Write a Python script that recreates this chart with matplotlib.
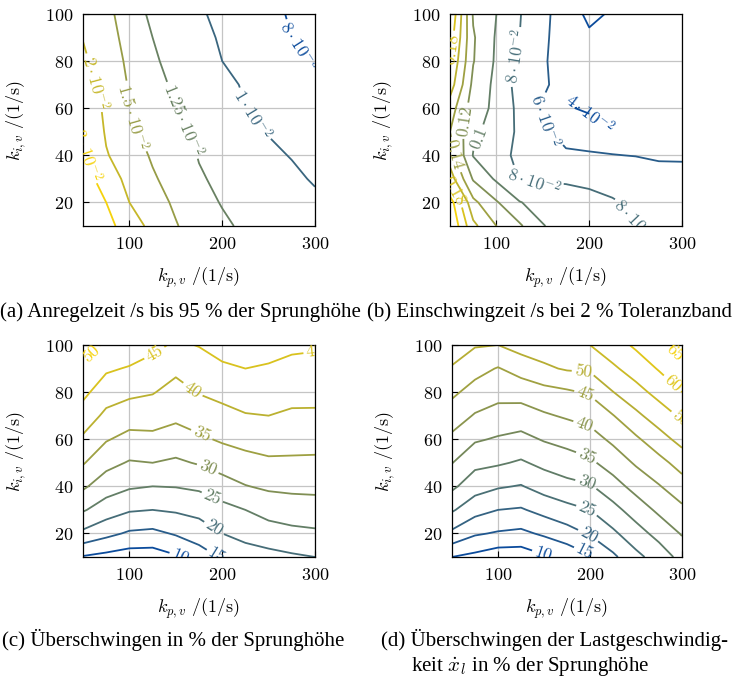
import numpy as np
import matplotlib
matplotlib.use("Agg")
import matplotlib.pyplot as plt
from matplotlib.colors import LinearSegmentedColormap

plt.rcParams["font.family"] = "serif"
plt.rcParams["font.serif"] = ["cmr10"]
plt.rcParams["mathtext.fontset"] = "cm"
plt.rcParams["axes.formatter.use_mathtext"] = True

# controller gains (grid of the parameter study)
kp = [50, 75, 100, 125, 150, 175, 200, 225, 250, 275, 300]
ki = [10, 20, 30, 40, 50, 60, 70, 80, 90, 100]

# (a) rise time /s, rows ki = 10 ... 100, columns kp = 50 ... 300
rise_time = [
    [0.045, 0.034, 0.024, 0.0178, 0.0152, 0.0135, 0.0128, 0.0122, 0.0117, 0.0113, 0.0109],
    [0.040, 0.030, 0.020, 0.0163, 0.0145, 0.0131, 0.0124, 0.0118, 0.0113, 0.0109, 0.0104],
    [0.036, 0.024, 0.0178, 0.0153, 0.0140, 0.0127, 0.0121, 0.0114, 0.0109, 0.0104, 0.0098],
    [0.032, 0.0205, 0.0163, 0.0147, 0.0135, 0.0124, 0.0118, 0.0110, 0.0104, 0.0099, 0.0094],
    [0.028, 0.0192, 0.0155, 0.0142, 0.0130, 0.0121, 0.0114, 0.0105, 0.0099, 0.0095, 0.0091],
    [0.025, 0.0187, 0.0150, 0.0138, 0.0126, 0.0117, 0.0110, 0.01005, 0.0096, 0.0092, 0.0088],
    [0.023, 0.0178, 0.0147, 0.0133, 0.0121, 0.0113, 0.0105, 0.0098, 0.0093, 0.0089, 0.0085],
    [0.021, 0.0170, 0.0143, 0.0129, 0.0116, 0.0109, 0.0100, 0.0096, 0.0090, 0.0085, 0.0079],
    [0.0198, 0.0163, 0.0139, 0.0125, 0.0112, 0.0105, 0.0098, 0.0094, 0.0088, 0.0080, 0.0077],
    [0.019, 0.0158, 0.0135, 0.0121, 0.0108, 0.0102, 0.0096, 0.0092, 0.0085, 0.0078, 0.0074],
]
rise_levels = [0.008, 0.01, 0.0125, 0.015, 0.02, 0.03]

# (b) settling time /s (2 % band)
settling_time = [
    [0.22, 0.165, 0.140, 0.123, 0.101, 0.092, 0.088, 0.085, 0.081, 0.077, 0.075],
    [0.21, 0.145, 0.122, 0.101, 0.092, 0.087, 0.084, 0.0815, 0.077, 0.074, 0.072],
    [0.17, 0.118, 0.097, 0.079, 0.078, 0.078, 0.077, 0.074, 0.071, 0.069, 0.068],
    [0.15, 0.099, 0.088, 0.075, 0.068, 0.063, 0.062, 0.0605, 0.0595, 0.057, 0.057],
    [0.14, 0.105, 0.090, 0.077, 0.064, 0.053, 0.050, 0.050, 0.052, 0.053, 0.054],
    [0.15, 0.110, 0.095, 0.075, 0.058, 0.042, 0.037, 0.047, 0.050, 0.052, 0.054],
    [0.17, 0.115, 0.095, 0.072, 0.063, 0.052, 0.050, 0.050, 0.050, 0.052, 0.054],
    [0.18, 0.121, 0.097, 0.075, 0.062, 0.052, 0.050, 0.050, 0.051, 0.052, 0.054],
    [0.19, 0.122, 0.098, 0.080, 0.063, 0.052, 0.043, 0.045, 0.050, 0.052, 0.055],
    [0.20, 0.118, 0.100, 0.081, 0.065, 0.050, 0.036, 0.042, 0.050, 0.052, 0.056],
]
settling_levels = [0.04, 0.06, 0.08, 0.1, 0.12, 0.14, 0.16, 0.18, 0.2]

# (c) overshoot in % of step height
overshoot = [
    [9.6, 8.5, 7.5, 7.5, 9.4, 12.5, 15.5, 17.9, 18.5, 19.3, 20.0],
    [18.9, 16.4, 14.3, 13.8, 15.5, 17.4, 20.0, 21.4, 22.7, 23.7, 24.2],
    [25.5, 22.5, 20.5, 20.0, 20.6, 21.5, 23.4, 25.0, 26.9, 27.6, 27.9],
    [30.8, 27.3, 25.6, 25.0, 25.2, 25.9, 27.9, 29.8, 30.8, 31.1, 31.2],
    [35.4, 31.5, 29.6, 30.0, 29.2, 30.4, 32.1, 33.3, 34.2, 34.2, 34.1],
    [39.2, 35.4, 33.5, 33.8, 32.9, 34.2, 35.6, 36.6, 37.1, 36.8, 36.75],
    [42.9, 38.9, 37.3, 37.2, 36.0, 37.4, 38.5, 39.7, 40.0, 39.3, 39.25],
    [46.2, 42.3, 41.1, 40.3, 38.3, 40.25, 41.4, 42.4, 42.3, 41.5, 41.5],
    [49.1, 45.7, 44.6, 43.2, 41.0, 42.75, 44.2, 45.0, 44.5, 43.7, 43.5],
    [52.0, 49.3, 48.2, 46.2, 44.3, 45.2, 46.9, 47.5, 46.8, 45.9, 45.6],
]
overshoot_levels = [10, 15, 20, 25, 30, 35, 40, 45, 50]

# (d) overshoot of load velocity in % of step height
load_overshoot = [
    [10.0, 8.7, 7.0, 7.0, 9.3, 11.5, 14.4, 19.0, 23.7, 27.2, 31.7],
    [18.9, 15.6, 14.5, 13.9, 15.8, 17.9, 20.5, 24.1, 27.9, 31.7, 35.4],
    [25.6, 21.8, 20.0, 19.5, 21.6, 23.5, 25.0, 28.4, 32.3, 36.0, 39.0],
    [31.0, 27.1, 25.5, 24.7, 27.0, 28.5, 29.5, 33.0, 36.7, 39.7, 42.8],
    [35.15, 31.3, 30.6, 29.4, 31.25, 32.7, 34.1, 37.2, 40.6, 43.4, 47.0],
    [38.9, 35.6, 34.5, 33.6, 35.4, 36.6, 38.0, 41.0, 44.2, 48.0, 51.7],
    [42.5, 39.6, 38.2, 37.7, 39.4, 40.6, 41.7, 44.8, 48.9, 52.5, 55.8],
    [46.0, 43.1, 41.6, 42.0, 43.3, 44.3, 45.6, 49.9, 53.3, 56.6, 60.0],
    [49.5, 46.7, 44.7, 47.0, 49.2, 50.5, 50.8, 54.2, 57.2, 60.4, 63.8],
    [53.0, 50.4, 50.0, 52.0, 52.5, 53.0, 55.0, 57.9, 60.8, 64.0, 67.0],
]
load_levels = [10, 15, 20, 25, 30, 35, 40, 45, 50, 55, 60, 65]

captions = [
    "(a) Anregelzeit /s bis 95 % der Sprunghöhe",
    "(b) Einschwingzeit /s bei 2 % Toleranzband",
    "(c) Überschwingen in % der Sprunghöhe",
    "(d) Überschwingen der Lastgeschwindig-",
    r"keit $\dot{x}_l$ in % der Sprunghöhe",
]

cmap = LinearSegmentedColormap.from_list("blue_yellow", ["#0b4b9c", "#f5d20c"])


def sci_label(v):
    if v >= 0.1 - 1e-9:
        return f"{v:g}"
    exp = int(np.floor(np.log10(v) + 1e-9))
    mant = v / 10.0 ** exp
    return rf"${mant:g}\cdot 10^{{{exp}}}$"


def int_label(v):
    return f"{v:g}"


def contour_panel(ax, z, levels, fmt, label_pos):
    colors = cmap(np.linspace(0, 1, len(levels)))
    cs = ax.contour(kp, ki, np.array(z), levels=levels, colors=colors, linewidths=1.3)
    ax.clabel(cs, fmt=fmt, fontsize=12.5, inline=True, inline_spacing=3,
              manual=label_pos)
    ax.set_xlim(50, 300)
    ax.set_ylim(10, 100)
    ax.set_xticks([100, 200, 300])
    ax.set_yticks([20, 40, 60, 80, 100])
    ax.grid(True, color="#c4c4c4", linewidth=0.9)
    ax.set_axisbelow(True)
    ax.tick_params(direction="in", length=4, labelsize=13, pad=7)
    ax.set_xlabel(r"$k_{p,v}$ /(1/s)", fontsize=13, labelpad=10)
    ax.set_ylabel(r"$k_{i,v}$ /(1/s)", fontsize=13, labelpad=12)
    for sp in ax.spines.values():
        sp.set_linewidth(0.9)


fig = plt.figure(figsize=(7.32, 6.84), dpi=100)
W, H = 732.0, 684.0
ax_a = fig.add_axes([83 / W, 1 - 226 / H, 232 / W, 212 / H])
ax_b = fig.add_axes([450 / W, 1 - 226 / H, 232 / W, 212 / H])
ax_c = fig.add_axes([83 / W, 1 - 557 / H, 232 / W, 212 / H])
ax_d = fig.add_axes([452 / W, 1 - 557 / H, 230 / W, 212 / H])

contour_panel(ax_a, rise_time, rise_levels, sci_label,
              [(52, 40), (56, 70), (115, 58), (158, 55), (232, 57), (288, 88)])
contour_panel(ax_b, settling_time, settling_levels, sci_label,
              [(118, 82), (140, 52), (200, 58), (140, 29), (250, 12), (84, 47),
               (62, 55), (55, 85), (53, 40), (55, 25)])
contour_panel(ax_c, overshoot, overshoot_levels, int_label,
              [(165, 10), (198, 13), (194, 24), (190, 36), (186, 49), (178, 62),
               (170, 82), (128, 96), (57, 97), (300, 97)])
contour_panel(ax_d, load_overshoot, load_levels, int_label,
              [(148, 10), (194, 12), (198, 19), (196, 29), (196, 41), (196, 52),
               (193, 65), (194, 78), (193, 90), (297, 68), (295, 86), (296, 98)])

cap_font = dict(family="Liberation Serif", fontsize=15, va="center", ha="left")
fig.text(0 / W, 1 - 312 / H, captions[0], **cap_font)
fig.text(367 / W, 1 - 312 / H, captions[1], **cap_font)
fig.text(2 / W, 1 - 640 / H, captions[2], **cap_font)
fig.text(381 / W, 1 - 640 / H, captions[3], **cap_font)
fig.text(411 / W, 1 - 666 / H, captions[4], **cap_font)

fig.savefig("out.png", dpi=100)
